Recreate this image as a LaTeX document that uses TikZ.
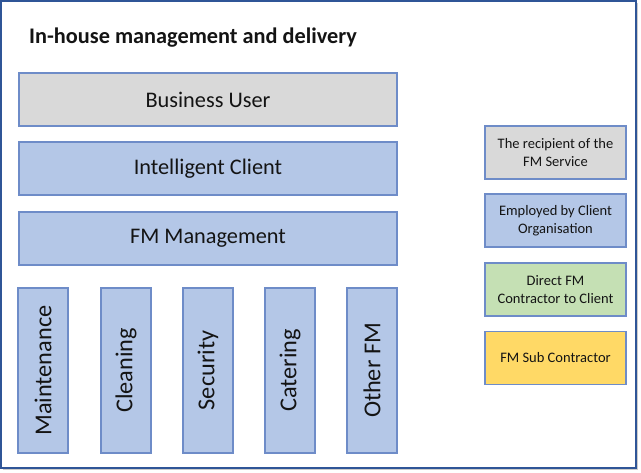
\documentclass[tikz,border=0pt]{standalone}
\usepackage{fontspec}
\setmainfont{Carlito}
\definecolor{frameblue}{RGB}{47,85,151}
\definecolor{boxline}{RGB}{110,140,200}
\definecolor{grayfill}{RGB}{217,217,217}
\definecolor{bluefill}{RGB}{180,199,231}
\definecolor{greenfill}{RGB}{197,224,180}
\definecolor{yellowfill}{RGB}{255,217,102}
\definecolor{txt}{RGB}{20,20,20}
\begin{document}
\begin{tikzpicture}[x=1pt,y=1pt,
  bar/.style={draw=boxline,line width=1.2pt,inner sep=0pt,text=txt,font=\fontsize{22.3}{26}\selectfont},
  col/.style={draw=boxline,line width=1.2pt,inner sep=0pt,text=txt},
  coltext/.style={rotate=90,inner sep=0pt,text=txt,font=\fontsize{24.3}{28}\selectfont},
  legend/.style={draw=boxline,line width=1.2pt,inner sep=0pt,text=txt,align=center,font=\fontsize{14.5}{18}\selectfont}]
\useasboundingbox (0,0) rectangle (641,-473);
\fill[white] (0,0) rectangle (641,-473);
\fill[gray!40] (3,-3) rectangle (638,-470);
\draw[frameblue,line width=1.5pt,fill=white] (1,-1) rectangle (636,-468);
\node[anchor=base west,inner sep=0pt,font=\bfseries\fontsize{22.3}{26}\selectfont,text=txt] (title) at (29,-44) {In-house management and delivery};
\node[bar,fill=grayfill,minimum width=378pt,minimum height=53pt] (bu) at (208,-99.5) {Business User};
\node[bar,fill=bluefill,minimum width=378pt,minimum height=53pt] (ic) at (208,-168.5) {Intelligent Client};
\node[bar,fill=bluefill,minimum width=378pt,minimum height=53pt] (fm) at (208,-238.5) {FM Management};
\foreach \n/\x/\t in {ma/43/Maintenance,cl/126/Cleaning,se/208/Security,ca/290/Catering,ot/372/Other FM}{
  \node[col,fill=bluefill,minimum width=50pt,minimum height=165pt] (\n) at (\x,-370.5) {};
  \node[coltext] (\n t) at (\n) {\t};
}
\node[legend,fill=grayfill,minimum width=141pt,minimum height=53pt] (l1) at (555.5,-152.5) {The recipient of the\\FM Service};
\node[legend,fill=bluefill,minimum width=141pt,minimum height=53pt] (l2) at (555.5,-220.5) {Employed by Client\\Organisation};
\node[legend,fill=greenfill,minimum width=141pt,minimum height=53pt] (l3) at (555.5,-289.5) {Direct FM\\Contractor to Client};
\node[legend,fill=yellowfill,minimum width=141pt,minimum height=53pt] (l4) at (555.5,-358) {FM Sub Contractor};
\end{tikzpicture}
\end{document}
